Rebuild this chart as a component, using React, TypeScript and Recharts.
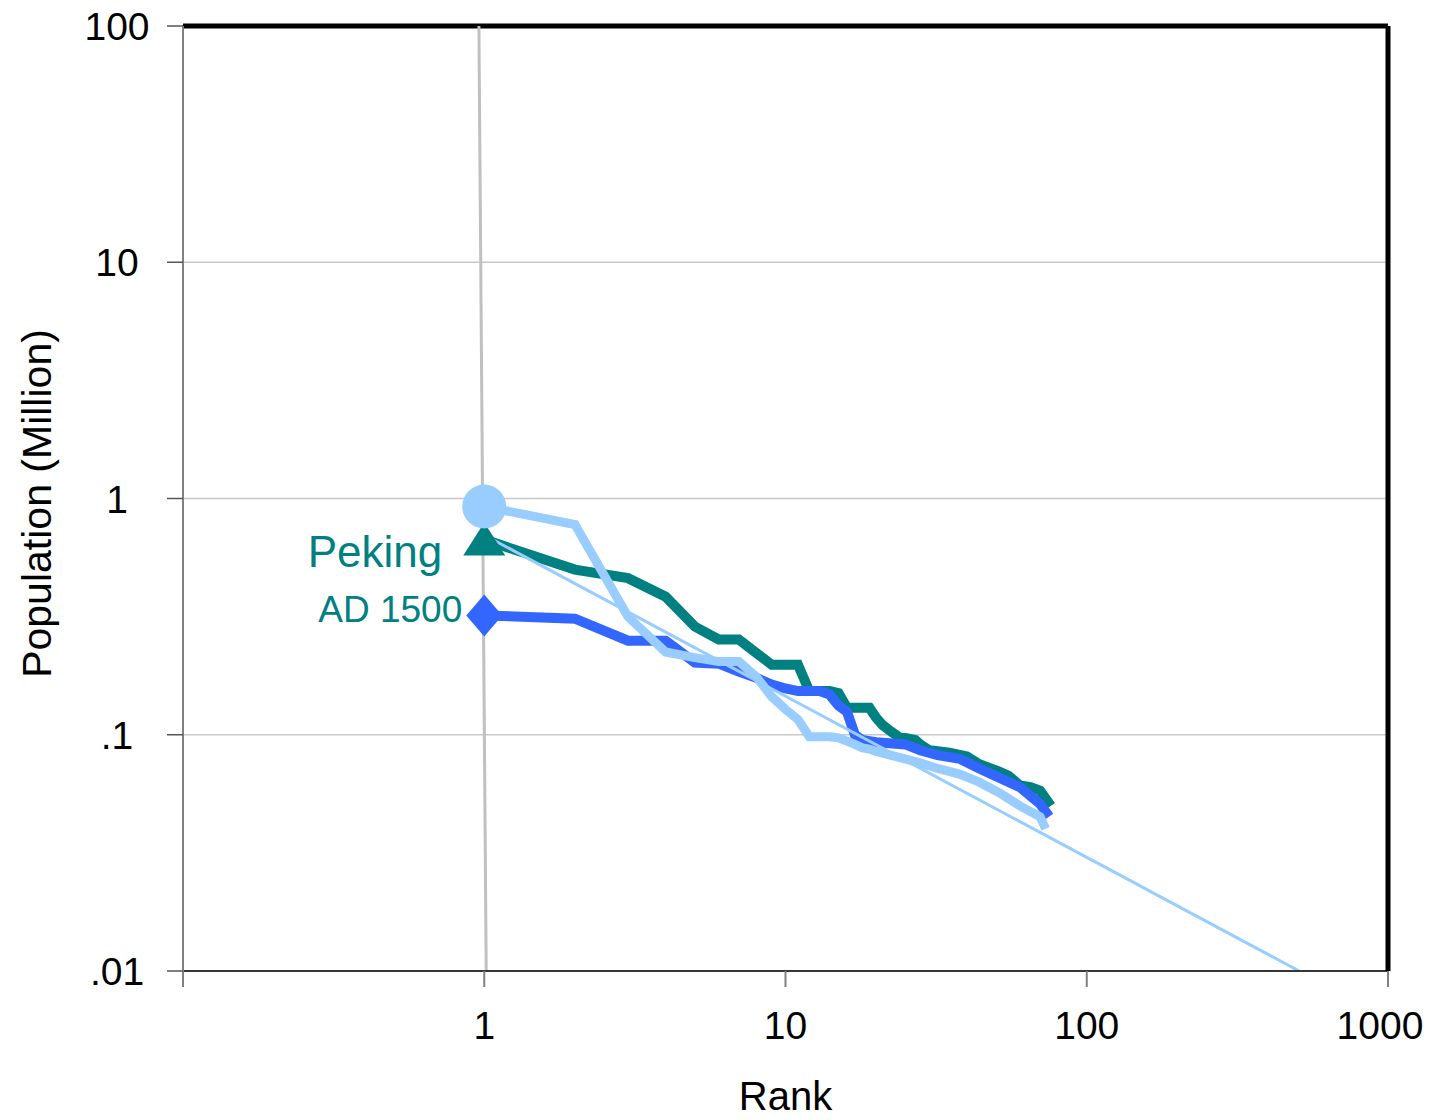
import React from "react";
import { LineChart, Line, XAxis, YAxis, CartesianGrid, ReferenceLine } from "recharts";

// city rank (x) vs population in millions (y), three rank-size curves
const TEAL_RANK = [1, 2, 3, 4, 5, 6, 7, 8, 9, 10, 11, 12, 13, 14, 15, 16, 17, 18, 19, 20, 21, 22, 24, 25, 27, 28, 30, 35, 40, 44, 51, 55, 60, 65, 70, 76];
const TEAL_POP = [0.67, 0.5, 0.46, 0.384, 0.287, 0.253, 0.253, 0.222, 0.198, 0.198, 0.198, 0.153, 0.153, 0.153, 0.15, 0.13, 0.13, 0.13, 0.13, 0.118, 0.11, 0.105, 0.097, 0.097, 0.095, 0.091, 0.086, 0.084, 0.081, 0.075, 0.07, 0.067, 0.061, 0.06, 0.058, 0.05];

const BLUE_RANK = [1, 2, 3, 4, 5, 6, 7, 8, 9, 10, 11, 12, 13, 14, 15, 16, 17, 18, 19, 20, 25, 28, 32, 38, 44, 51, 60, 70, 75];
const BLUE_POP = [0.32, 0.31, 0.25, 0.25, 0.202, 0.2, 0.185, 0.174, 0.163, 0.157, 0.153, 0.153, 0.153, 0.148, 0.133, 0.125, 0.1, 0.095, 0.094, 0.093, 0.091, 0.086, 0.082, 0.079, 0.072, 0.066, 0.06, 0.051, 0.045];

const SKY_RANK = [1, 2, 3, 4, 5, 6, 7, 8, 9, 10, 11, 12, 13, 14, 15, 16, 17, 18, 19, 20, 24, 28, 32, 38, 44, 51, 60, 70, 73];
const SKY_POP = [0.925, 0.776, 0.316, 0.224, 0.212, 0.204, 0.204, 0.176, 0.145, 0.128, 0.116, 0.098, 0.098, 0.098, 0.097, 0.094, 0.091, 0.088, 0.087, 0.085, 0.08, 0.076, 0.072, 0.068, 0.063, 0.057, 0.05, 0.045, 0.04];

// fitted rank-size line and the vertical guide at rank 1
const TREND_RANK = [1, 507];
const TREND_POP = [0.7, 0.01];
const GUIDE_RANK = [0.96, 1.015];
const GUIDE_POP = [100, 0.01];

const X_TICKS = [0.1, 1, 10, 100, 1000];
const X_TICK_LABELS = ["", "1", "10", "100", "1000"];
const Y_TICKS = [0.01, 0.1, 1, 10, 100];
const Y_TICK_LABELS = [".01", ".1", "1", "10", "100"];

const toPoints = (ranks: number[], pops: number[]) =>
  ranks.map((rank, i) => ({ rank, pop: pops[i] }));

const teal = toPoints(TEAL_RANK, TEAL_POP);
const blue = toPoints(BLUE_RANK, BLUE_POP);
const sky = toPoints(SKY_RANK, SKY_POP);
const trend = toPoints(TREND_RANK, TREND_POP);
const guide = toPoints(GUIDE_RANK, GUIDE_POP);

const TEAL = "#008080";
const BLUE = "#3366FF";
const SKY = "#99CCFF";
const FONT = "'Liberation Sans', Arial, sans-serif";

const XTick = (props: any) => {
  const { x, y, payload } = props;
  const i = X_TICKS.indexOf(payload.value);
  // last label is pulled in so it stays inside the page
  const dx = i === X_TICKS.length - 1 ? -8 : 0;
  return (
    <text x={x} y={y} dx={dx} dy={50} textAnchor="middle" fontSize={39} fill="#000" fontFamily={FONT}>
      {X_TICK_LABELS[i]}
    </text>
  );
};

const YTick = (props: any) => {
  const { y, payload } = props;
  const label = Y_TICK_LABELS[Y_TICKS.indexOf(payload.value)];
  return (
    <text x={109} y={y} dy={14} textAnchor="middle" fontSize={39} fill="#000" fontFamily={FONT}>
      {label}
    </text>
  );
};

const skyDot = (props: any) => {
  const { cx, cy, index } = props;
  if (index !== 0) return <g key={`s${index}`} />;
  return <circle key="s0" cx={cx} cy={cy} r={22} fill={SKY} />;
};

const tealDot = (props: any) => {
  const { cx, cy, index } = props;
  if (index !== 0) return <g key={`t${index}`} />;
  return (
    <g key="t0">
      <polygon points={`${cx},${cy - 17} ${cx + 21},${cy + 16} ${cx - 21},${cy + 16}`} fill={TEAL} />
      <text x={cx - 42} y={cy + 27} textAnchor="end" fontSize={44} fill={TEAL} fontFamily={FONT}>
        Peking
      </text>
    </g>
  );
};

const blueDot = (props: any) => {
  const { cx, cy, index } = props;
  if (index !== 0) return <g key={`b${index}`} />;
  return (
    <g key="b0">
      <polygon points={`${cx},${cy - 21} ${cx + 18},${cy} ${cx},${cy + 21} ${cx - 18},${cy}`} fill={BLUE} />
      <text x={cx - 22} y={cy + 7} textAnchor="end" fontSize={37} fill={TEAL} fontFamily={FONT}>
        AD 1500
      </text>
    </g>
  );
};

export default function App() {
  return (
    <div style={{ fontFamily: FONT, margin: "-8px 0 0 0" }}>
      <style>{"html, body { overflow: hidden; }"}</style>
      <LineChart width={1426} height={1120} margin={{ top: 26, right: 46, bottom: 0, left: 0 }}>
        <CartesianGrid vertical={false} stroke="#c8c8c8" strokeWidth={1.5} />
        <XAxis
          type="number"
          dataKey="rank"
          scale="log"
          domain={[0.1, 1000]}
          allowDataOverflow
          ticks={X_TICKS}
          interval={0}
          height={149}
          tickSize={16}
          tickLine={{ stroke: "#808080", strokeWidth: 2 }}
          axisLine={{ stroke: "#000", strokeWidth: 1.5 }}
          tick={XTick}
          label={{
            content: (p: any) => {
              const vb = p.viewBox;
              return (
                <text x={vb.x + vb.width / 2} y={vb.y + 139} textAnchor="middle" fontSize={40} fill="#000" fontFamily={FONT}>
                  Rank
                </text>
              );
            },
          }}
        />
        <YAxis
          type="number"
          dataKey="pop"
          scale="log"
          domain={[0.01, 100]}
          allowDataOverflow
          ticks={Y_TICKS}
          interval={0}
          width={175}
          tickSize={16}
          tickLine={{ stroke: "#555", strokeWidth: 1.5 }}
          axisLine={{ stroke: "#808080", strokeWidth: 2 }}
          tick={YTick}
          label={{
            content: (p: any) => {
              const vb = p.viewBox;
              const cx = 29;
              const cy = vb.y + vb.height / 2 + 5;
              return (
                <text
                  x={cx}
                  y={cy}
                  transform={`rotate(-90, ${cx}, ${cy})`}
                  textAnchor="middle"
                  dominantBaseline="central"
                  fontSize={41}
                  fill="#000"
                  fontFamily={FONT}
                >
                  Population (Million)
                </text>
              );
            },
          }}
        />
        <ReferenceLine y={100} stroke="#000" strokeWidth={5} />
        <ReferenceLine x={1000} stroke="#000" strokeWidth={5} />
        <Line data={teal} dataKey="pop" stroke={TEAL} strokeWidth={10} dot={tealDot} isAnimationActive={false} />
        <Line data={blue} dataKey="pop" stroke={BLUE} strokeWidth={10} dot={blueDot} isAnimationActive={false} />
        <Line data={sky} dataKey="pop" stroke={SKY} strokeWidth={9} dot={skyDot} isAnimationActive={false} />
        <Line data={trend} dataKey="pop" stroke={SKY} strokeWidth={3} dot={false} isAnimationActive={false} />
        <Line data={guide} dataKey="pop" stroke="#c0c0c0" strokeWidth={3} dot={false} isAnimationActive={false} />
      </LineChart>
    </div>
  );
}
